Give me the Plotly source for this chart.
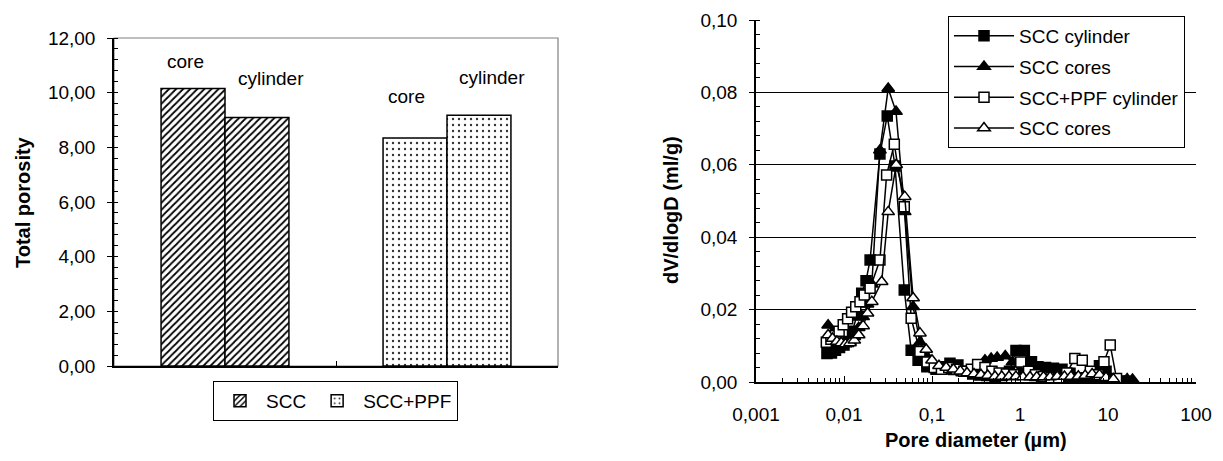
import plotly.graph_objects as go

# ---------------- Left chart data ----------------
bar_groups = ["SCC", "SCC+PPF"]
sample_types = ["core", "cylinder"]
scc_porosity = [10.15, 9.09]
ppf_porosity = [8.34, 9.17]
bar_patterns = ["/", "."]

# ---------------- Right chart data ----------------
series_names = ["SCC cylinder", "SCC cores", "SCC+PPF cylinder", "SCC cores"]

scc_cyl_d = [0.0064, 0.0072, 0.0080, 0.0089, 0.0100, 0.0112, 0.0125, 0.0140, 0.0159, 0.0178,
             0.0198, 0.0256, 0.0310, 0.0380, 0.0484, 0.0580, 0.0695, 0.0874, 0.111, 0.135,
             0.160, 0.197, 0.24, 0.29, 0.35, 0.42, 0.52, 0.63, 0.76, 0.90,
             1.12, 1.35, 1.60, 1.95, 2.4, 3.0, 3.7, 4.5, 5.5, 6.7,
             8.0, 9.5, 11.5, 14.0, 17.0]
scc_cyl_v = [0.0079, 0.0080, 0.0088, 0.0095, 0.0102, 0.0112, 0.0140, 0.0185, 0.0245, 0.0280,
             0.0337, 0.0630, 0.0735, 0.0597, 0.0254, 0.0088, 0.0060, 0.0042, 0.0035, 0.0042,
             0.0052, 0.0047, 0.0030, 0.0022, 0.0019, 0.0018, 0.0016, 0.0018, 0.0030, 0.0087,
             0.0087, 0.0056, 0.0042, 0.0040, 0.0038, 0.0035, 0.0024, 0.0012, 0.0010, 0.0020,
             0.0045, 0.0030, 0.0008, 0.0003, 0.0002]

scc_core_d = [0.0066, 0.0074, 0.0083, 0.0093, 0.0104, 0.0117, 0.0131, 0.0147, 0.0165, 0.0185,
              0.0207, 0.0256, 0.0318, 0.039, 0.049, 0.061, 0.073, 0.088, 0.105, 0.125,
              0.15, 0.18, 0.22, 0.27, 0.33, 0.40, 0.47, 0.55, 0.68, 0.82,
              1.0, 1.2, 1.5, 1.8, 2.2, 2.7, 3.3, 4.0, 4.9, 6.0,
              7.3, 9.0, 11.0, 13.5, 16.5, 19.0]
scc_core_v = [0.0157, 0.0135, 0.0118, 0.0110, 0.0108, 0.0112, 0.0125, 0.0150, 0.0180, 0.0215,
              0.0270, 0.0640, 0.0811, 0.0747, 0.0470, 0.0208, 0.0110, 0.0070, 0.0045, 0.0035,
              0.0030, 0.0028, 0.0025, 0.0030, 0.0045, 0.0060, 0.0065, 0.0068, 0.0072, 0.0055,
              0.0030, 0.0018, 0.0012, 0.0010, 0.0010, 0.0012, 0.0010, 0.0008, 0.0008, 0.0008,
              0.0007, 0.0007, 0.0007, 0.0007, 0.0008, 0.0007]

ppf_cyl_d = [0.0063, 0.0071, 0.0079, 0.0088, 0.0098, 0.0110, 0.0122, 0.0136, 0.0152, 0.0170,
             0.0198, 0.0256, 0.0305, 0.0373, 0.0484, 0.058, 0.0729, 0.088, 0.106, 0.128,
             0.155, 0.19, 0.23, 0.28, 0.33, 0.40, 0.48, 0.58, 0.70, 0.85,
             1.02, 1.25, 1.5, 1.85, 2.25, 2.75, 3.4, 4.2, 5.1, 6.3,
             7.7, 9.0, 10.6, 12.5]
ppf_cyl_v = [0.0110, 0.0118, 0.0128, 0.0140, 0.0158, 0.0175, 0.0193, 0.0208, 0.0222, 0.0240,
             0.0259, 0.0337, 0.0572, 0.0657, 0.0484, 0.0176, 0.0084, 0.0055, 0.0040, 0.0035,
             0.0040, 0.0035, 0.0030, 0.0035, 0.0048, 0.0040, 0.0030, 0.0025, 0.0022, 0.0020,
             0.0055, 0.0030, 0.0020, 0.0015, 0.0012, 0.0010, 0.0025, 0.0065, 0.0060, 0.0030,
             0.0020, 0.0056, 0.0102, 0.0010]

open_core_d = [0.0066, 0.0074, 0.0083, 0.0093, 0.0104, 0.0117, 0.0131, 0.0147, 0.0165, 0.0185,
               0.0207, 0.0268, 0.0318, 0.0392, 0.049, 0.061, 0.073, 0.086, 0.10, 0.12,
               0.145, 0.175, 0.21, 0.25, 0.30, 0.36, 0.43, 0.52, 0.62, 0.75,
               0.90, 1.08, 1.3, 1.55, 1.85, 2.2, 2.65, 3.2, 3.8, 4.6,
               5.5, 6.6, 8.0, 9.5, 11.5]
open_core_v = [0.0130, 0.0120, 0.0112, 0.0108, 0.0105, 0.0108, 0.0115, 0.0130, 0.0155, 0.0190,
               0.0222, 0.0277, 0.0470, 0.0600, 0.0512, 0.0232, 0.0135, 0.0090, 0.0060, 0.0045,
               0.0040, 0.0035, 0.0030, 0.0025, 0.0022, 0.0020, 0.0018, 0.0015, 0.0015, 0.0015,
               0.0015, 0.0014, 0.0014, 0.0014, 0.0014, 0.0014, 0.0015, 0.0015, 0.0015, 0.0016,
               0.0018, 0.0022, 0.0020, 0.0012, 0.0008]

x_tick_vals = [0.001, 0.01, 0.1, 1, 10, 100]
x_tick_text = ["0,001", "0,01", "0,1", "1", "10", "100"]

# ---------------- Layout constants ----------------
PAGE_W, PAGE_H = 1223, 461
BODY = 8                      # default page margin around the plot div
W, H = PAGE_W - 2 * BODY, PAGE_H - 2 * BODY
FONT = "Liberation Sans"
TICK_SIZE = 19
BAR_W = 0.288


def fx(px):
    return (px - BODY) / W


def fy(py):
    return 1 - (py - BODY) / H


def dom_x(a, b):
    return [fx(a), fx(b)]


def dom_y(top, bottom):
    return [fy(bottom), fy(top)]


fig = go.Figure()

# ---------- bars ----------
annotations = []
label_shift = [[(-8, 27), (14, 39)], [(-9, 42), (13, 38)]]
for gi, (name, vals, shape) in enumerate(zip(bar_groups, [scc_porosity, ppf_porosity], bar_patterns)):
    xs = [gi + (k - 0.5) * BAR_W for k in range(len(vals))]
    if shape == "/":
        pat = dict(shape="/", fgcolor="black", bgcolor="white", size=5, solidity=0.35)
    else:
        pat = dict(shape=".", fgcolor="#333", bgcolor="white", size=6, solidity=0.12)
    fig.add_trace(go.Bar(
        x=xs, y=vals, width=BAR_W, name=name,
        marker=dict(color="white", line=dict(color="black", width=1.5), pattern=pat),
        xaxis="x", yaxis="y", legend="legend", showlegend=True,
    ))
    for k, (xv, yv) in enumerate(zip(xs, vals)):
        dx, dy = label_shift[gi][k]
        annotations.append(dict(
            x=xv, y=yv, xref="x", yref="y", text=sample_types[k], showarrow=False,
            xshift=dx, yshift=dy, font=dict(size=19, family=FONT, color="black"),
        ))

# ---------- lines ----------
line_series = [
    (scc_cyl_d, scc_cyl_v, "square", "black"),
    (scc_core_d, scc_core_v, "triangle-up", "black"),
    (ppf_cyl_d, ppf_cyl_v, "square", "white"),
    (open_core_d, open_core_v, "triangle-up", "white"),
]
for i, (name, (d, v, sym, fill)) in enumerate(zip(series_names, line_series)):
    fig.add_trace(go.Scatter(
        x=d, y=v, name=name, mode="lines+markers",
        line=dict(color="black", width=1.5),
        marker=dict(symbol=sym, size=11 if "triangle" in sym else 10, color=fill,
                    line=dict(color="black", width=1.5)),
        xaxis="x2", yaxis="y2", legend="legend2", legendgroup=f"g{i}",
    ))

# axis titles
annotations.append(dict(
    x=fx(23), y=fy(202), xref="paper", yref="paper", text="<b>Total porosity</b>",
    xanchor="center", yanchor="middle",
    textangle=-90, showarrow=False, font=dict(size=20, family=FONT, color="black"),
))
annotations.append(dict(
    x=fx(671), y=fy(210), xref="paper", yref="paper", text="<b>dV/dlogD (ml/g)</b>",
    xanchor="center", yanchor="middle",
    textangle=-90, showarrow=False, font=dict(size=20, family=FONT, color="black"),
))
annotations.append(dict(
    x=fx(976), y=fy(453), xref="paper", yref="paper", text="<b>Pore diameter (µm)</b>",
    xanchor="center", yanchor="bottom",
    showarrow=False, font=dict(size=20, family=FONT, color="black"),
))

minor_x = [m * 10 ** e for e in range(-3, 2) for m in range(2, 10)]

fig.update_layout(
    width=W, height=H,
    margin=dict(l=0, r=0, t=0, b=0),
    template="none",
    paper_bgcolor="white", plot_bgcolor="white",
    font=dict(family=FONT, size=TICK_SIZE, color="black"),
    separators=",.",
    barmode="overlay",
    annotations=annotations,
    shapes=[
        dict(type="rect", xref="x domain", yref="y domain", x0=0, x1=1, y0=0, y1=1,
             line=dict(color="#808080", width=1.2), layer="below"),
    ],
    xaxis=dict(
        domain=dom_x(114, 558), range=[-0.5, 1.5], anchor="y",
        showline=True, linecolor="black", linewidth=1.5,
        tickmode="array", tickvals=[0.5], ticks="inside", ticklen=5, tickcolor="black",
        showticklabels=False, showgrid=False, zeroline=False,
    ),
    yaxis=dict(
        domain=dom_y(38, 366), range=[0, 12], anchor="x",
        showline=True, linecolor="black", linewidth=1.5,
        dtick=2, tick0=0, tickformat=".2f", ticks="outside", ticklen=5, tickcolor="black",
        ticklabelstandoff=8,
        minor=dict(dtick=0.4, ticks="inside", ticklen=4, tickcolor="black", showgrid=False),
        showgrid=False, zeroline=False, tickfont=dict(size=TICK_SIZE),
    ),
    xaxis2=dict(
        type="log", domain=dom_x(756, 1196), range=[-3, 2], anchor="y2",
        showline=True, linecolor="black", linewidth=1.5,
        tickmode="array", tickvals=x_tick_vals, ticktext=x_tick_text,
        ticks="inside", ticklen=6, tickcolor="black", ticklabelstandoff=14,
        minor=dict(tickmode="array", tickvals=minor_x, ticks="inside", ticklen=4,
                   tickcolor="black", showgrid=False),
        showgrid=False, zeroline=False, tickfont=dict(size=TICK_SIZE),
    ),
    yaxis2=dict(
        domain=dom_y(20, 382), range=[0, 0.1], anchor="x2",
        showline=True, linecolor="black", linewidth=1.5,
        dtick=0.02, tick0=0, tickformat=".2f", ticks="outside", ticklen=5, tickcolor="black",
        ticklabelstandoff=8,
        minor=dict(dtick=0.004, ticks="inside", ticklen=4, tickcolor="black", showgrid=False),
        showgrid=True, gridcolor="black", gridwidth=1, zeroline=False,
        tickfont=dict(size=TICK_SIZE),
    ),
    legend=dict(
        orientation="h", x=fx(213), y=fy(381), xanchor="left", yanchor="top",
        bordercolor="black", borderwidth=1, bgcolor="white",
        font=dict(size=19, family=FONT, color="black"), itemwidth=42,
    ),
    legend2=dict(
        x=fx(948), y=fy(16), xanchor="left", yanchor="top",
        bordercolor="black", borderwidth=1, bgcolor="white",
        font=dict(size=19, family=FONT, color="black"),
        traceorder="grouped", tracegroupgap=3, itemwidth=60,
    ),
)

fig.write_html("out.html")
